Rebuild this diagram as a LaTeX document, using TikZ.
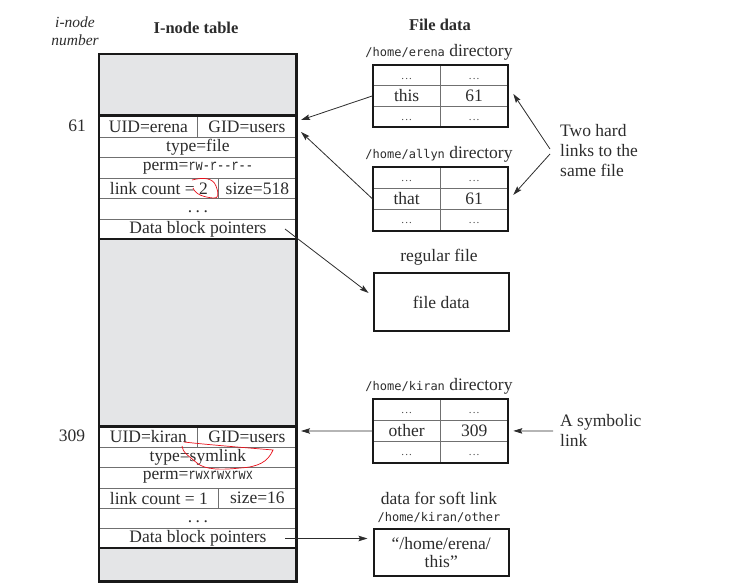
\documentclass[tikz,border=0pt]{standalone}
\usepackage{fontspec}
\setmainfont{Liberation Serif}
\newfontfamily\pathfont{DejaVu Sans Mono}
\newfontfamily\permfont[FakeStretch=0.77]{Liberation Mono}
\usetikzlibrary{arrows.meta}
\definecolor{ink}{HTML}{2C2C2C}
\definecolor{shade}{HTML}{E4E5E7}
\definecolor{rule}{HTML}{707070}
\definecolor{mark}{HTML}{E8101A}
% dots sitting on the text baseline of a row
\newcommand{\rowdots}{\vphantom{Ag}.\hspace{3.5pt}.\hspace{3.5pt}.}
\newcommand{\entrydots}{\vphantom{Ag}{\fontsize{11}{12}\selectfont\color{ink!85}.\hspace{1.2pt}.\hspace{1.2pt}.}}
\newcommand{\pth}[1]{{\pathfont\fontsize{12}{14}\selectfont #1}}
\newcommand{\prm}[1]{{\permfont\fontsize{15.5}{16}\selectfont #1}}
\begin{document}
\begin{tikzpicture}[x=1pt,y=-1pt,
  every node/.style={text=ink, inner sep=0pt},
  txt/.style={font=\fontsize{17.5}{20}\selectfont},
  cell/.style={draw=rule, line width=0.8pt, anchor=north west, txt},
  dcell/.style={cell, minimum width=67.5pt},
  blk/.style={fill=shade, anchor=north west, minimum width=197pt},
  frame/.style={draw=black!90, line width=2.3pt},
  head/.style={font=\bfseries\fontsize{16.5}{19}\selectfont},
  link/.style={draw=ink, line width=0.8pt, -{Stealth[length=9pt,width=5.5pt,inset=1.5pt]}},
  redmark/.style={draw=mark, line width=0.7pt}]
\useasboundingbox (0,0) rectangle (753,588);

% ---------- i-node table ----------
\node[blk, minimum height=61pt] (blkA) at (99,54) {};
\node[blk, minimum height=187pt] (blkB) at (99,239) {};
\node[blk, minimum height=33pt] (blkC) at (99,548) {};

% i-node 61
\node[cell, minimum width=98pt, minimum height=22pt] (uidA) at (99,115) {UID=erena};
\node[cell, minimum width=99pt, minimum height=22pt] (gidA) at (197,115) {GID=users};
\node[cell, minimum width=197pt, minimum height=20pt] (typeA) at (99,137) {type=file};
\node[cell, minimum width=197pt, minimum height=21pt] (permA) at (99,157) {perm=\prm{rw-r--r--}};
\node[cell, minimum width=119pt, minimum height=20pt] (lcA) at (99,178) {link count = 2};
\node[cell, minimum width=78pt, minimum height=20pt] (sizeA) at (218,178) {size=518};
\node[cell, minimum width=197pt, minimum height=21pt] (etcA) at (99,198) {\rowdots};
\node[cell, minimum width=197pt, minimum height=20pt] (dbpA) at (99,219) {Data block pointers};

% i-node 309
\node[cell, minimum width=98pt, minimum height=20.7pt] (uidB) at (99,426) {UID=kiran};
\node[cell, minimum width=99pt, minimum height=20.7pt] (gidB) at (197,426) {GID=users};
\node[cell, minimum width=197pt, minimum height=20pt] (typeB) at (99,446.7) {type=symlink};
\node[cell, minimum width=197pt, minimum height=21pt] (permB) at (99,466.7) {perm=\prm{rwxrwxrwx}};
\node[cell, minimum width=119pt, minimum height=20.3pt] (lcB) at (99,487.7) {link count = 1};
\node[cell, minimum width=78pt, minimum height=20.3pt] (sizeB) at (218,487.7) {size=16};
\node[cell, minimum width=197pt, minimum height=20pt] (etcB) at (99,508) {\rowdots};
\node[cell, minimum width=197pt, minimum height=20pt] (dbpB) at (99,528) {Data block pointers};

% heavy frame and separators of the table
\draw[frame] (blkA.north west) rectangle (blkC.south east);
\draw[frame] (blkA.south west) -- (blkA.south east);
\draw[frame] (blkB.north west) -- (blkB.north east);
\draw[frame] (blkB.south west) -- (blkB.south east);
\draw[frame] (blkC.north west) -- (blkC.north east);

% labels on the left
\node[font=\itshape\fontsize{15.5}{18}\selectfont, align=center] (inum) at (75,31) {i-node\\number};
\node[head] (ttl) at (196,28) {I-node table};
\node[txt] (n61) at (77,126) {61};
\node[txt] (n309) at (72,436) {309};

% ---------- file data ----------
\node[head] (fdttl) at (440,25) {File data};

% /home/erena directory
\node[txt] (erLbl) at (439,52) {\pth{/home/erena} directory};
\node[dcell, minimum height=20pt] (er1a) at (372.5,65) {\entrydots};
\node[dcell, minimum height=20pt] (er1b) at (440,65) {\entrydots};
\node[dcell, minimum height=21pt] (er2a) at (372.5,85) {this};
\node[dcell, minimum height=21pt] (er2b) at (440,85) {61};
\node[dcell, minimum height=20pt] (er3a) at (372.5,106) {\entrydots};
\node[dcell, minimum height=20pt] (er3b) at (440,106) {\entrydots};
\draw[frame, line width=2pt] (er1a.north west) rectangle (er3b.south east);

% /home/allyn directory
\node[txt] (alLbl) at (439,154) {\pth{/home/allyn} directory};
\node[dcell, minimum height=21pt] (al1a) at (372.5,167) {\entrydots};
\node[dcell, minimum height=21pt] (al1b) at (440,167) {\entrydots};
\node[dcell, minimum height=21pt] (al2a) at (372.5,188) {that};
\node[dcell, minimum height=21pt] (al2b) at (440,188) {61};
\node[dcell, minimum height=21pt] (al3a) at (372.5,209) {\entrydots};
\node[dcell, minimum height=21pt] (al3b) at (440,209) {\entrydots};
\draw[frame, line width=2pt] (al1a.north west) rectangle (al3b.south east);

\node[txt, align=left, anchor=west] (hard) at (560,151) {Two hard\\links to the\\same file};

% regular file
\node[txt] (regLbl) at (439,257) {regular file};
\node[txt, draw=black!90, line width=2pt, minimum width=135.5pt, minimum height=58pt, anchor=north west] (reg) at (372.5,272) {file data};

% /home/kiran directory
\node[txt] (kiLbl) at (439,386) {\pth{/home/kiran} directory};
\node[dcell, minimum height=21pt] (ki1a) at (372.5,399) {\entrydots};
\node[dcell, minimum height=21pt] (ki1b) at (440,399) {\entrydots};
\node[dcell, minimum height=21pt] (ki2a) at (372.5,420) {other};
\node[dcell, minimum height=21pt] (ki2b) at (440,420) {309};
\node[dcell, minimum height=21pt] (ki3a) at (372.5,441) {\entrydots};
\node[dcell, minimum height=21pt] (ki3b) at (440,441) {\entrydots};
\draw[frame, line width=2pt] (ki1a.north west) rectangle (ki3b.south east);

\node[txt, align=left, anchor=west] (sym) at (560,430.5) {A symbolic\\link};

% soft link data
\node[txt] (softLbl) at (439,498) {data for soft link};
\node (softPath) at (439,517) {\pth{/home/kiran/other}};
\node[txt, draw=black!90, line width=2pt, minimum width=135.5pt, minimum height=47pt, anchor=north west, align=center, font=\fontsize{17.5}{18.5}\selectfont] (soft) at (372.5,528) {``/home/erena/\\this''};

% ---------- connectors ----------
\coordinate (inA1) at (301,120);
\coordinate (inA2) at (301,132);
\coordinate (inB) at (301,431);
\coordinate (ptrA) at (285,229);
\coordinate (ptrB) at (285,538.5);
\coordinate (hardTail) at (550,149);
\coordinate (hardTail2) at (550,154);
\coordinate (symTail) at (553,431);

\draw[link] (er2a.west) -- (inA1);
\draw[link] (al2a.west) -- (inA2);
\draw[link] (hardTail) -- ([xshift=5pt,yshift=2pt]er2b.east);
\draw[link] (hardTail2) -- ([xshift=5pt,yshift=4pt]al2b.east);
\draw[link, shorten >=5pt] (ptrA) -- (reg.west |- 0,296);
\draw[link] (ki2a.west) -- (inB);
\draw[link] (symTail) -- ([xshift=5pt]ki2b.east);
\draw[link, shorten >=5pt] (ptrB) -- (soft.west |- ptrB);

% red pen marks
\draw[redmark] (192,180) .. controls (204,177) and (213,178) .. (216,186)
  .. controls (219,194) and (219,199) .. (213,198)
  .. controls (204,197) and (196,195) .. (193,188);
\draw[redmark] (184,442) .. controls (210,445) and (250,448) .. (273,450)
  .. controls (268,462) and (258,467) .. (240,468)
  .. controls (222,470) and (205,470) .. (197,463)
  .. controls (190,457) and (182,452) .. (182,446);
\end{tikzpicture}
\end{document}
